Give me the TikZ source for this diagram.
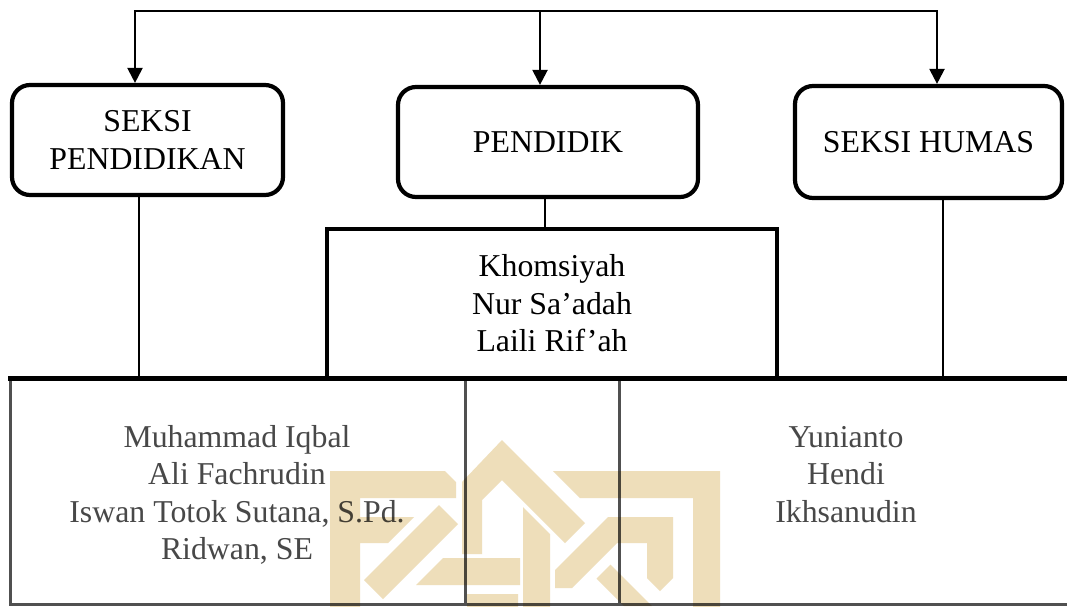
\documentclass[tikz,border=0pt]{standalone}
\usepackage{fontspec}
\setmainfont{Liberation Serif}
\usetikzlibrary{arrows.meta}
\definecolor{wm}{RGB}{238,222,186}
\definecolor{gtext}{RGB}{72,72,72}
\definecolor{gline}{RGB}{80,80,80}
\begin{document}
\begin{tikzpicture}[x=1pt,y=-1pt,
  lbl/.style={font=\fontsize{31.8}{37.5}\selectfont, align=center, inner sep=0pt},
  rbox/.style={draw, line width=4.2pt, rounded corners=18pt, lbl},
  sbox/.style={draw, line width=4.2pt, lbl},
  gbox/.style={draw=gline, line width=3pt, outer sep=0pt, inner sep=0pt},
  conn/.style={line width=1.6pt},
  topline/.style={line width=2.2pt},
  arr/.style={line width=2.2pt, -{Triangle[width=15pt,length=15pt]}},
  thickline/.style={line width=5pt}]
\useasboundingbox (0,0) rectangle (1067,606);
\fill[white] (0,0) rectangle (1067,606);

% top boxes
\node[rbox, minimum width=271pt, minimum height=110pt] (b1) at (147.5,140) {SEKSI\\PENDIDIKAN};
\node[rbox, minimum width=300pt, minimum height=110pt] (b2) at (548,142) {PENDIDIK};
\node[rbox, minimum width=267pt, minimum height=112pt] (b3) at (928.5,142) {SEKSI HUMAS};

% bottom row boxes
\node[gbox, minimum width=455pt, minimum height=226pt] (bl) at (237.5,491) {};
\node[gbox, minimum width=154pt, minimum height=226pt] (bm) at (542,491) {};
\node[gbox, minimum width=461pt, minimum height=226pt] (br) at (849.5,491) {};

% Khomsiyah box
\node[sbox, minimum width=450pt, minimum height=149pt] (kb) at (552,303.5) {Khomsiyah\\Nur Sa’adah\\Laili Rif’ah};

% texts in bottom boxes
\node[lbl, text=gtext] (tl) at (237,494.7) {Muhammad Iqbal\\Ali Fachrudin\\Iswan Totok Sutana, S.Pd.\\Ridwan, SE};
\node[lbl, text=gtext] (tr) at (846,474.5) {Yunianto\\Hendi\\Ikhsanudin};

% top distribution line with arrows
\coordinate (t1) at (135,11);
\coordinate (t2) at (540,11);
\coordinate (t3) at (937,11);
\draw[topline] ([xshift=-1.1pt]t1) -- ([xshift=1.1pt]t3);
\draw[arr] (t1) -- (b1.north -| t1);
\draw[arr] (t2) -- (b2.north -| t2);
\draw[arr] (t3) -- (b3.north -| t3);

% vertical connectors
\coordinate (c1) at (139,0);
\coordinate (c2) at (545,0);
\coordinate (c3) at (943,0);
\draw[conn] (b1.south -| c1) -- (bl.north -| c1);
\draw[conn] (b2.south -| c2) -- (kb.north -| c2);
\draw[conn] (b3.south -| c3) -- (br.north -| c3);

% thick top edge of bottom row
\draw[thickline] ([xshift=-2pt]bl.north west) -- (br.north east);

% watermark
\begin{scope}[blend mode=multiply]
\fill[wm]
  (330,610) -- (330,471) -- (445,471) -- (456,482) -- (456,498) -- (360,498) -- (360,610) -- cycle
  (360,517) -- (414,517) -- (388,543) -- (360,543) -- cycle
  (439,505) -- (458,524) -- (383,599) -- (364,580) -- cycle
  (443,558) -- (520,558) -- (520,585) -- (416,585) -- cycle
  (467,594) -- (518,594) -- (518,610) -- (467,610) -- cycle
  (502,440) -- (585,523) -- (565,543) -- (502,480) -- (482,500) -- (482,554) -- (462,554) -- (462,482) -- cycle
  (523,507) -- (550,534) -- (550,610) -- (523,610) -- cycle
  (553,471) -- (720,471) -- (720,610) -- (693,610) -- (693,498) -- (580,498) -- cycle
  (617,517) -- (673,517) -- (673,578) -- (660,591) -- (647,578) -- (647,543) -- (617,543) -- cycle
  (555,570) -- (608,517) -- (625,517) -- (625,543) -- (617,543) -- (572,588) -- (555,588) -- cycle
  (610.5,564.5) -- (652,606) -- (624,606) -- (596.5,578.5) -- cycle;
\end{scope}
\end{tikzpicture}
\end{document}
